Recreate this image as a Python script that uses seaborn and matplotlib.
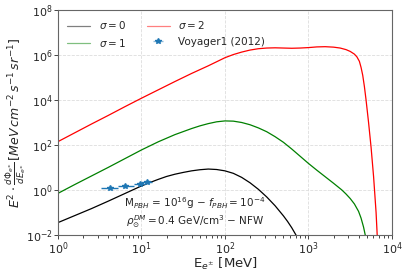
import numpy as np
import pandas as pd
import seaborn as sns
import matplotlib.pyplot as plt

# curves, log10(E/MeV) and log10(flux)
logE_s2 = [0.0, 0.2, 0.4, 0.6, 0.8, 1.0, 1.2, 1.4, 1.6, 1.8, 1.9, 2.0, 2.1, 2.2, 2.3, 2.4,
           2.5, 2.6, 2.7, 2.8, 2.9, 3.0, 3.1, 3.2, 3.3, 3.38, 3.45, 3.5, 3.55, 3.58, 3.61,
           3.63, 3.65, 3.67, 3.69, 3.72, 3.75, 3.78, 3.81, 3.83]
logF_s2 = [2.15, 2.54, 2.93, 3.31, 3.70, 4.08, 4.45, 4.82, 5.18, 5.52, 5.70, 5.88, 6.02,
           6.13, 6.22, 6.28, 6.31, 6.32, 6.31, 6.30, 6.31, 6.33, 6.36, 6.37, 6.35, 6.31,
           6.24, 6.16, 6.04, 5.92, 5.72, 5.45, 5.1, 4.6, 4.0, 3.0, 1.9, 0.6, -1.0, -2.5]

logE_s1 = [0.0, 0.2, 0.4, 0.6, 0.8, 1.0, 1.2, 1.4, 1.6, 1.7, 1.8, 1.9, 2.0, 2.1, 2.2, 2.3,
           2.4, 2.5, 2.6, 2.7, 2.8, 2.9, 3.0, 3.1, 3.2, 3.3, 3.4, 3.45, 3.5, 3.55, 3.6,
           3.63, 3.66, 3.68, 3.69]
logF_s1 = [-0.15, 0.24, 0.62, 1.0, 1.39, 1.78, 2.14, 2.46, 2.73, 2.85, 2.95, 3.03, 3.07,
           3.06, 3.0, 2.9, 2.76, 2.59, 2.37, 2.12, 1.82, 1.5, 1.18, 0.88, 0.59, 0.3, 0.0,
           -0.18, -0.38, -0.62, -0.95, -1.25, -1.65, -2.0, -2.2]

logE_s0 = [0.0, 0.2, 0.4, 0.6, 0.8, 1.0, 1.1, 1.2, 1.3, 1.4, 1.5, 1.6, 1.7, 1.8, 1.9, 2.0,
           2.1, 2.2, 2.3, 2.4, 2.5, 2.6, 2.7, 2.75, 2.8, 2.85, 2.88]
logF_s0 = [-1.45, -1.14, -0.83, -0.5, -0.16, 0.18, 0.33, 0.47, 0.6, 0.7, 0.78, 0.85, 0.9,
           0.93, 0.91, 0.85, 0.74, 0.56, 0.32, 0.03, -0.31, -0.7, -1.15, -1.4, -1.68,
           -2.0, -2.2]

# Voyager1 (2012) points
voy_E = [4.2, 6.4, 9.5, 11.5]
voy_F = [1.17, 1.5, 1.9, 2.3]
voy_Elo = [3.3, 5.3, 8.1, 10.0]
voy_Ehi = [5.3, 8.1, 10.9, 13.2]

sns.set_style('ticks')
plt.rcParams['font.size'] = 7.5

fig = plt.figure(figsize=(4.07, 2.71), dpi=100)
ax = fig.add_axes([0.1425, 0.133, 0.8205, 0.83])

curves = [(logE_s0, logF_s0, 'black', r'$\sigma = 0$'),
          (logE_s1, logF_s1, 'green', r'$\sigma = 1$'),
          (logE_s2, logF_s2, 'red', r'$\sigma = 2$')]
for le, lf, c, lab in curves:
    df = pd.DataFrame({'E': np.power(10.0, le), 'F': np.power(10.0, lf)})
    sns.lineplot(data=df, x='E', y='F', color=c, lw=0.9, sort=False, label=lab, ax=ax)

xerr = [np.array(voy_E) - np.array(voy_Elo), np.array(voy_Ehi) - np.array(voy_E)]
ax.errorbar(voy_E, voy_F, xerr=xerr, fmt='*', color='#1f77b4', ms=4, lw=1,
            label='Voyager1 (2012)')

ax.set_xscale('log')
ax.set_yscale('log')
ax.set_xlim(1, 1e4)
ax.set_ylim(1e-2, 1e8)
ax.set_yticks([1e-2, 1, 1e2, 1e4, 1e6, 1e8])
ax.yaxis.set_minor_locator(plt.NullLocator())
ax.grid(True, which='major', ls='--', color='#dddddd', lw=0.6)
for s in ax.spines.values():
    s.set_color('#666666')
    s.set_linewidth(0.8)
ax.tick_params(labelsize=8, length=3, width=0.6, pad=1)

ax.set_xlabel(r'E$_{e^{\pm}}$ [MeV]', fontsize=9.5)
ax.xaxis.set_label_coords(0.5, -0.095)
ax.set_ylabel(r'$E^2 \cdot \frac{d\Phi_{e^{\pm}}}{dE_{e^{\pm}}}\, [MeV\, cm^{-2}\, s^{-1}\, sr^{-1}]$',
              fontsize=9)
ax.yaxis.set_label_coords(-0.09, 0.5)

ax.text(0.41, 0.14, r'M$_{PBH}$ = 10$^{16}$g $-$ $f_{PBH} = 10^{-4}$',
        transform=ax.transAxes, ha='center', va='center', fontsize=7.5)
ax.text(0.41, 0.06, r'$\rho_{\odot}^{DM} = 0.4$ GeV/cm$^3$ $-$ NFW',
        transform=ax.transAxes, ha='center', va='center', fontsize=7.5)

leg = ax.legend(loc='upper left', ncol=2, frameon=False, fontsize=7.5,
                handlelength=2.2, columnspacing=2.0)
for h in leg.legend_handles:
    h.set_alpha(0.5)

fig.savefig('out.png', dpi=100)
